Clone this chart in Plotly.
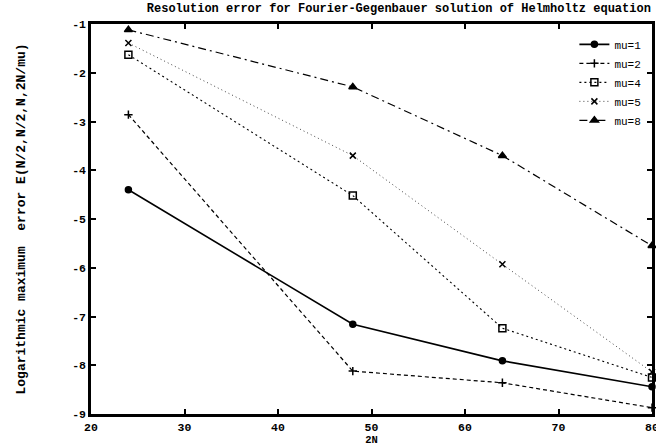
import plotly.graph_objects as go

x_2N = [24, 48, 64, 80]
mu1 = [-4.40, -7.16, -7.91, -8.44]
mu2 = [-2.86, -8.12, -8.36, -8.87]
mu4 = [-1.63, -4.52, -7.24, -8.25]
mu5 = [-1.39, -3.70, -5.93, -8.14]
mu8 = [-1.12, -2.29, -3.70, -5.55]

x_ticks = [20, 30, 40, 50, 60, 70, 80]
y_ticks = [-1, -2, -3, -4, -5, -6, -7, -8, -9]

FONT = "Liberation Mono"

series = [
    ("mu=1", mu1, "solid", "circle", 6, 1.6, "black"),
    ("mu=2", mu2, "4px,3px", "cross-thin", 6, 1.2, "black"),
    ("mu=4", mu4, "2px,3px", "square-open", 7, 1.1, "black"),
    ("mu=5", mu5, "1px,3px", "x-thin", 6, 1.0, "#444444"),
    ("mu=8", mu8, "8px,4px,2px,4px", "triangle-up", 7, 1.2, "black"),
]

fig = go.Figure()
for name, ys, dash, sym, size, w, col in series:
    fig.add_trace(go.Scatter(
        x=x_2N, y=ys, name=name, mode="lines+markers",
        line=dict(color=col, width=w, dash=dash),
        marker=dict(symbol=sym, size=size, color="black",
                    line=dict(color="black", width=1.5)),
        cliponaxis=False,
    ))

axis_common = dict(
    showgrid=False, zeroline=False, ticks="inside", ticklen=5, tickwidth=1.5,
    tickcolor="black", showline=True, linecolor="black", linewidth=2.5,
    mirror="ticks", automargin=False, ticklabeloverflow="allow",
    tickfont=dict(family=FONT, size=11.5, color="black"),
)

fig.update_layout(
    width=656, height=448,
    margin=dict(l=91, r=4, t=24, b=34),
    paper_bgcolor="white", plot_bgcolor="white",
    title=dict(text="<b>Resolution error for Fourier-Gegenbauer solution of Helmholtz equation</b>",
               x=0.998, xanchor="right", xref="paper", y=0.992, yanchor="top",
               automargin=False,
               font=dict(family=FONT, size=12, color="black")),
    xaxis=dict(range=[20, 80], tickvals=x_ticks,
               ticktext=[f"<b>{v}</b>" for v in x_ticks],
               title=dict(text="<b>2N</b>", standoff=0,
                          font=dict(family=FONT, size=10.5, color="black")),
               **axis_common),
    yaxis=dict(range=[-9, -1], tickvals=y_ticks,
               ticktext=[f"<b>{v}</b>" for v in y_ticks],
               title=dict(text="<b>Logarithmic maximum  error E(N/2,N/2,N,2N/mu)</b>",
                          standoff=44,
                          font=dict(family=FONT, size=13, color="black")),
               **axis_common),
    legend=dict(x=0.99, y=0.985, xanchor="right", yanchor="top",
                bgcolor="rgba(0,0,0,0)", borderwidth=0,
                font=dict(family=FONT, size=11, color="black"),
                tracegroupgap=0, itemwidth=30),
    showlegend=True,
)

fig.write_html("out.html", config={"displayModeBar": False},
               post_script="document.body.style.margin='0';document.body.style.overflow='hidden';")
